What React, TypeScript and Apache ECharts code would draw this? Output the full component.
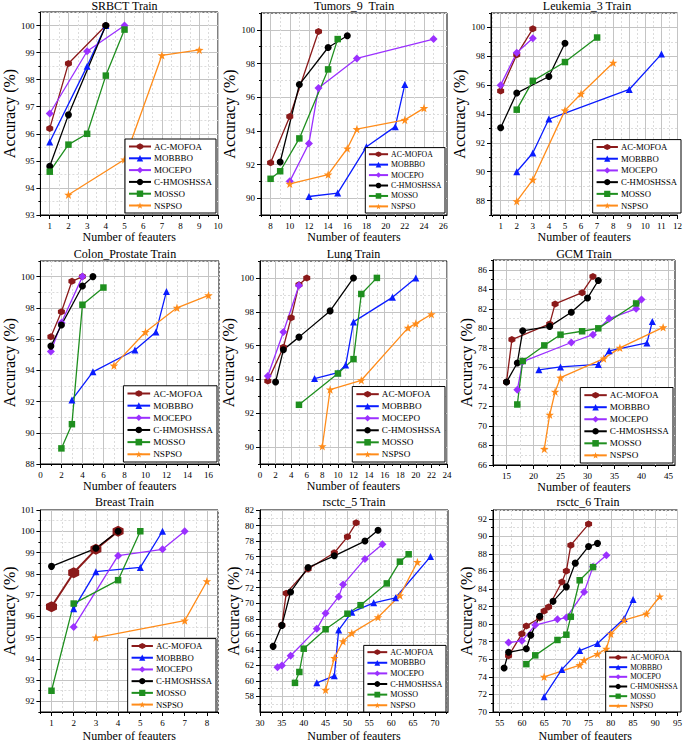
import { useEffect, useRef } from 'react';
import * as echarts from 'echarts';

const FONT = '"Liberation Serif", "Times New Roman", serif';

const SERIES_NAMES = ['AC-MOFOA', 'MOBBBO', 'MOCEPO', 'C-HMOSHSSA', 'MOSSO', 'NSPSO'];
const COLORS = ['#8b1a1a', '#0a1cff', '#9b30ff', '#000000', '#1f8f1f', '#ff8c1a'];
const HEX = 'path://M50,0 L93.3,25 L93.3,75 L50,100 L6.7,75 L6.7,25 Z';
const STAR = 'path://M50,0 L61.76,33.82 L97.55,34.55 L69.02,56.18 L79.39,90.45 L50,70 L20.61,90.45 L30.98,56.18 L2.45,34.55 L38.24,33.82 Z';
const SYMBOLS = [HEX, 'triangle', 'diamond', 'circle', 'rect', STAR];
const SYMBOL_SIZES = [7, 7, 8, 7, 6.5, 8.5];

// SRBCT Train
const srbctAC = [[1, 96.2], [2, 98.6], [4, 100]];
const srbctMB = [[1, 95.7], [3, 98.5], [4, 100]];
const srbctMC = [[1, 96.75], [3, 99.05], [5, 100]];
const srbctCH = [[1, 94.8], [2, 96.7], [4, 100]];
const srbctMS = [[1, 94.6], [2, 95.6], [3, 96.0], [4, 98.15], [5, 99.85]];
const srbctNS = [[2, 93.75], [5, 95.05], [7, 98.9], [9, 99.1]];

// Tumors_9 Train
const tumAC = [[8, 92.1], [10, 94.85], [13, 99.9]];
const tumMB = [[12, 90.1], [15, 90.3], [18, 93.05], [21, 94.25], [22, 96.75]];
const tumMC = [[10, 91.0], [12, 93.25], [13, 96.55], [17, 98.3], [25, 99.45]];
const tumCH = [[9, 92.15], [11, 96.75], [14, 98.95], [16, 99.65]];
const tumMS = [[8, 91.15], [9, 91.6], [11, 93.55], [14, 97.65], [15, 99.45]];
const tumNS = [[10, 90.85], [14, 91.4], [16, 92.95], [17, 94.1], [22, 94.65], [24, 95.35]];

// Leukemia_3 Train
const leuAC = [[1, 95.6], [2, 98.1], [3, 99.9]];
const leuMB = [[2, 90.0], [3, 91.3], [4, 93.65], [9, 95.7], [11, 98.15]];
const leuMC = [[1, 96.0], [2, 98.25], [3, 99.25]];
const leuCH = [[1, 93.05], [2, 95.45], [4, 96.6], [5, 98.9]];
const leuMS = [[2, 94.3], [3, 96.3], [5, 97.6], [7, 99.3]];
const leuNS = [[2, 87.95], [3, 89.45], [5, 94.25], [6, 95.4], [8, 97.55]];

// Colon_Prostate Train
const colAC = [[1, 96.15], [2, 97.75], [3, 99.7], [4, 100]];
const colMB = [[3, 92.1], [5, 93.9], [9, 95.3], [11, 96.45], [12, 99.05]];
const colMC = [[1, 95.2], [2, 97.05], [4, 100]];
const colCH = [[1, 95.55], [2, 96.9], [4, 99.4], [5, 100]];
const colMS = [[2, 89.0], [3, 90.55], [4, 98.2], [6, 99.3]];
const colNS = [[7, 94.3], [10, 96.45], [13, 98.0], [16, 98.8]];

// Lung Train
const lungAC = [[1, 93.9], [3, 95.9], [4, 97.65], [5, 99.6], [6, 100]];
const lungMB = [[7, 94.05], [10, 94.4], [11, 94.85], [12, 97.4], [17, 98.85], [20, 100]];
const lungMC = [[1, 94.2], [3, 96.8], [5, 99.55]];
const lungCH = [[2, 93.85], [3, 95.75], [5, 96.5], [9, 98.05], [12, 100]];
const lungMS = [[5, 92.5], [10, 94.35], [12, 95.2], [13, 99.05], [15, 100]];
const lungNS = [[8, 90.05], [9, 93.4], [13, 93.95], [19, 97.05], [20, 97.3], [22, 97.85]];

// GCM Train
const gcmAC = [[15, 74.5], [16, 78.85], [23, 80.45], [24, 82.5], [29, 83.65], [31, 85.3]];
const gcmMB = [[21, 75.75], [25, 76.05], [32, 76.3], [34, 77.7], [41, 78.5], [42, 80.7]];
const gcmMC = [[17, 73.7], [18, 76.6], [27, 78.55], [31, 79.35], [34, 81.0], [39, 82.0], [40, 82.95]];
const gcmCH = [[15, 74.5], [17, 76.45], [18, 79.75], [23, 80.2], [27, 81.65], [30, 83.1], [32, 84.9]];
const gcmMS = [[17, 72.2], [18, 76.65], [22, 78.25], [25, 79.35], [29, 79.7], [32, 80.0], [39, 82.55]];
const gcmNS = [[22, 67.65], [23, 71.15], [24, 73.5], [25, 74.95], [33, 76.9], [36, 78.0], [44, 80.1]];

// Breast Train
const brAC = [[1, 96.45], [2, 98.05], [3, 99.15], [4, 100]];
const brMB = [[2, 96.35], [3, 98.1], [5, 98.3], [6, 100]];
const brMC = [[2, 95.5], [4, 98.85], [6, 99.15], [7, 100]];
const brCH = [[1, 98.35], [3, 99.2], [4, 100]];
const brMS = [[1, 92.5], [2, 96.6], [4, 97.7], [5, 100]];
const brNS = [[3, 95.0], [7, 95.8], [8, 97.65]];

// rsctc_5 Train
const r5AC = [[35, 67.15], [36, 71.3], [41, 74.4], [47, 76.5], [50, 78.55], [52, 80.35]];
const r5MB = [[43, 59.75], [47, 60.65], [48, 66.55], [51, 68.85], [56, 70.05], [61, 70.7], [69, 76.0]];
const r5MC = [[34, 61.75], [35, 62.0], [37, 63.25], [43, 66.7], [45, 68.7], [48, 70.85], [49, 72.4], [54, 75.7], [58, 77.6]];
const r5CH = [[33, 64.45], [35, 67.15], [37, 71.45], [41, 74.6], [47, 76.1], [54, 78.0], [57, 79.4]];
const r5MS = [[38, 59.75], [39, 61.15], [40, 64.15], [45, 66.65], [50, 68.65], [53, 69.75], [59, 72.55], [62, 75.35], [64, 76.3]];
const r5NS = [[45, 58.85], [47, 62.95], [49, 65.1], [51, 66.15], [57, 68.2], [62, 71.0], [66, 75.3]];

// rsctc_6 Train
const r6AC = [[57, 76.4], [60, 78.9], [61, 79.8], [64, 80.7], [65, 81.5], [66, 81.95], [69, 84.8], [70, 86.05], [71, 89.0], [75, 91.4]];
const r6MB = [[65, 71.75], [69, 74.85], [73, 77.0], [77, 77.8], [83, 80.65], [85, 82.8]];
const r6MC = [[57, 77.9], [60, 78.1], [63, 79.9], [68, 80.55], [70, 80.75], [74, 83.65], [76, 86.55], [79, 87.85]];
const r6CH = [[56, 75.0], [57, 76.8], [61, 77.2], [62, 78.75], [64, 80.9], [67, 82.6], [70, 84.25], [72, 86.95], [75, 88.85], [77, 89.2]];
const r6MS = [[61, 75.45], [63, 76.45], [68, 78.2], [70, 78.8], [71, 80.85], [73, 85.0], [76, 86.5]];
const r6NS = [[65, 74.0], [73, 75.35], [74, 75.9], [77, 76.6], [79, 77.2], [80, 78.9], [83, 80.45], [88, 81.2], [91, 83.15]];

// Tick labels
const srbctXTicks = [1, 2, 3, 4, 5, 6, 7, 8, 9, 10];
const srbctYTicks = [93, 94, 95, 96, 97, 98, 99, 100];
const tumXTicks = [8, 10, 12, 14, 16, 18, 20, 22, 24, 26];
const tumYTicks = [90, 92, 94, 96, 98, 100];
const leuXTicks = [1, 2, 3, 4, 5, 6, 7, 8, 9, 10, 11, 12];
const leuYTicks = [88, 90, 92, 94, 96, 98, 100];
const colXTicks = [0, 2, 4, 6, 8, 10, 12, 14, 16];
const colYTicks = [88, 90, 92, 94, 96, 98, 100];
const lungXTicks = [0, 2, 4, 6, 8, 10, 12, 14, 16, 18, 20, 22, 24];
const lungYTicks = [90, 92, 94, 96, 98, 100];
const gcmXTicks = [15, 20, 25, 30, 35, 40, 45];
const gcmYTicks = [66, 68, 70, 72, 74, 76, 78, 80, 82, 84, 86];
const brXTicks = [1, 2, 3, 4, 5, 6, 7, 8];
const brYTicks = [92, 93, 94, 95, 96, 97, 98, 99, 100, 101];
const r5XTicks = [30, 35, 40, 45, 50, 55, 60, 65, 70];
const r5YTicks = [58, 60, 62, 64, 66, 68, 70, 72, 74, 76, 78, 80, 82];
const r6XTicks = [55, 60, 65, 70, 75, 80, 85, 90, 95];
const r6YTicks = [70, 72, 74, 76, 78, 80, 82, 84, 86, 88, 90, 92];

const PANELS = [
  { title: 'SRBCT Train', data: [srbctAC, srbctMB, srbctMC, srbctCH, srbctMS, srbctNS], x: [0.5, 10], y: [93, 100.5], xt: srbctXTicks, yt: srbctYTicks },
  { title: 'Tumors_9  Train', data: [tumAC, tumMB, tumMC, tumCH, tumMS, tumNS], x: [7, 26.4], y: [89, 101], xt: tumXTicks, yt: tumYTicks },
  { title: 'Leukemia_3 Train', data: [leuAC, leuMB, leuMC, leuCH, leuMS, leuNS], x: [0.4, 12], y: [87, 101], xt: leuXTicks, yt: leuYTicks },
  { title: 'Colon_Prostate Train', data: [colAC, colMB, colMC, colCH, colMS, colNS], x: [0, 17], y: [88, 101], xt: colXTicks, yt: colYTicks },
  { title: 'Lung Train', data: [lungAC, lungMB, lungMC, lungCH, lungMS, lungNS], x: [0, 24], y: [89, 101], xt: lungXTicks, yt: lungYTicks },
  { title: 'GCM Train', data: [gcmAC, gcmMB, gcmMC, gcmCH, gcmMS, gcmNS], x: [12.5, 46.2], y: [66, 87], xt: gcmXTicks, yt: gcmYTicks },
  { title: 'Breast Train', data: [brAC, brMB, brMC, brCH, brMS, brNS], x: [0.5, 8.5], y: [91.5, 101], xt: brXTicks, yt: brYTicks },
  { title: 'rsctc_5 Train', data: [r5AC, r5MB, r5MC, r5CH, r5MS, r5NS], x: [30, 73], y: [56, 82], xt: r5XTicks, yt: r5YTicks },
  { title: 'rsctc_6 Train', data: [r6AC, r6MB, r6MC, r6CH, r6MS, r6NS], x: [53.5, 95], y: [70, 93], xt: r6XTicks, yt: r6YTicks },
];

// Layout (px)
const LAYOUT = [
  { left: 31, top: 12, width: 187, height: 203, titleTop: 0, yGap: 16, xGap: 15, ls: 1.0 },
  { left: 261, top: 13, width: 186, height: 202, titleTop: 0, yGap: 13, xGap: 15, ls: 0.87 },
  { left: 491, top: 13, width: 192, height: 202, titleTop: 0, yGap: 15, xGap: 15, ls: 0.97 },
  { left: 31, top: 261, width: 188, height: 203, titleTop: 248, yGap: 16, xGap: 15, ls: 1.03 },
  { left: 260, top: 261, width: 187, height: 203, titleTop: 248, yGap: 12, xGap: 15, ls: 1.02 },
  { left: 493, top: 260, width: 182, height: 205, titleTop: 248, yGap: 16, xGap: 15, ls: 1.02 },
  { left: 31, top: 510, width: 187, height: 204, titleTop: 496, yGap: 16, xGap: 18, ls: 0.97 },
  { left: 260, top: 510, width: 188, height: 204, titleTop: 496, yGap: 14, xGap: 18, ls: 0.9 },
  { left: 493, top: 510, width: 190, height: 204, titleTop: 496, yGap: 17, xGap: 18, ls: 0.82 },
];

const W = 685;
const H = 743;

function minorTicks(major: number[], range: number[]) {
  const out: number[] = [];
  const step = major[1] - major[0];
  const cand = [major[0] - step / 2];
  for (let i = 0; i < major.length - 1; i++) cand.push((major[i] + major[i + 1]) / 2);
  cand.push(major[major.length - 1] + step / 2);
  cand.forEach((v) => {
    if (v >= range[0] - 1e-9 && v <= range[1] + 1e-9) out.push(v);
  });
  return out;
}

function buildOption() {
  const grid: any[] = [];
  const xAxis: any[] = [];
  const yAxis: any[] = [];
  const title: any[] = [];
  const legend: any[] = [];
  const series: any[] = [];
  const tickLabel = { fontFamily: FONT, fontSize: 9, color: '#000' };

  PANELS.forEach((p, i) => {
    const L = LAYOUT[i];
    grid.push({
      left: L.left, top: L.top, width: L.width, height: L.height,
      show: true, borderColor: '#000', borderWidth: 1, backgroundColor: '#fff',
    });
    title.push({
      text: p.title, left: L.left + L.width / 2, top: L.titleTop, textAlign: 'center', padding: 0,
      textStyle: { fontFamily: FONT, fontSize: 12, fontWeight: 'normal', color: '#000' },
    });
    xAxis.push({
      type: 'value', gridIndex: i, min: p.x[0], max: p.x[1], position: 'bottom',
      axisLine: { show: false, onZero: false },
      axisTick: { show: true, customValues: minorTicks(p.xt, p.x), length: 2, lineStyle: { color: '#000' } },
      axisLabel: { show: false },
      splitLine: { show: true, lineStyle: { color: '#dcdcdc', type: [2, 2], width: 1 } },
    });
    xAxis.push({
      type: 'value', gridIndex: i, min: p.x[0], max: p.x[1], position: 'bottom',
      axisLine: { show: true, onZero: false, lineStyle: { color: '#000', width: 1 } },
      axisTick: { show: true, customValues: p.xt, length: 4, lineStyle: { color: '#000' } },
      axisLabel: { ...tickLabel, customValues: p.xt, margin: 6, hideOverlap: false },
      splitLine: { show: true, lineStyle: { color: '#c4c4c4', width: 1 } },
      name: 'Number of feauters', nameLocation: 'middle', nameGap: L.xGap,
      nameTextStyle: { fontFamily: FONT, fontSize: 12, color: '#000' },
    });
    yAxis.push({
      type: 'value', gridIndex: i, min: p.y[0], max: p.y[1], position: 'left',
      axisLine: { show: false, onZero: false },
      axisTick: { show: true, customValues: minorTicks(p.yt, p.y), length: 2, lineStyle: { color: '#000' } },
      axisLabel: { show: false },
      splitLine: { show: true, lineStyle: { color: '#dcdcdc', type: [2, 2], width: 1 } },
    });
    yAxis.push({
      type: 'value', gridIndex: i, min: p.y[0], max: p.y[1], position: 'left',
      axisLine: { show: true, onZero: false, lineStyle: { color: '#000', width: 1 } },
      axisTick: { show: true, customValues: p.yt, length: 4, lineStyle: { color: '#000' } },
      axisLabel: { ...tickLabel, customValues: p.yt, margin: 6, hideOverlap: false },
      splitLine: { show: true, lineStyle: { color: '#c4c4c4', width: 1 } },
      name: 'Accuracy (%)', nameLocation: 'middle', nameGap: L.yGap,
      nameTextStyle: { fontFamily: FONT, fontSize: 16, color: '#000' },
    });
    const s = L.ls;
    legend.push({
      data: SERIES_NAMES, orient: 'vertical', selectedMode: false,
      right: W - (L.left + L.width) + 2, bottom: H - (L.top + L.height) + 2,
      backgroundColor: '#fff', borderColor: '#000', borderWidth: 1, borderRadius: 0,
      padding: [3 * s, 4 * s, 3 * s, 3 * s], itemGap: 2.8 * s, itemWidth: 22 * s, itemHeight: 8 * s,
      textStyle: { fontFamily: FONT, fontSize: 9 * s, lineHeight: 9 * s, color: '#000', padding: [0, 0, 0, -2] },
    });
    p.data.forEach((d, k) => {
      const bigHex = i === 6 && k === 0;
      series.push({
        type: 'line', name: SERIES_NAMES[k], xAxisIndex: 2 * i + 1, yAxisIndex: 2 * i + 1,
        data: d, symbol: SYMBOLS[k],
        symbolSize: bigHex ? 11 : SYMBOL_SIZES[k],
        showSymbol: true,
        lineStyle: { color: COLORS[k], width: bigHex ? 2 : 1.3 },
        itemStyle: { color: COLORS[k] },
        emphasis: { disabled: true },
      });
    });
  });

  return { animation: false, backgroundColor: '#fff', grid, xAxis, yAxis, title, legend, series };
}

export default function App() {
  const ref = useRef<HTMLDivElement>(null);
  useEffect(() => {
    if (!ref.current) return;
    const chart = echarts.init(ref.current, null, { renderer: 'svg' });
    chart.setOption(buildOption() as any);
    return () => chart.dispose();
  }, []);
  return <div ref={ref} style={{ position: 'absolute', left: 0, top: 0, width: W, height: H }} />;
}
